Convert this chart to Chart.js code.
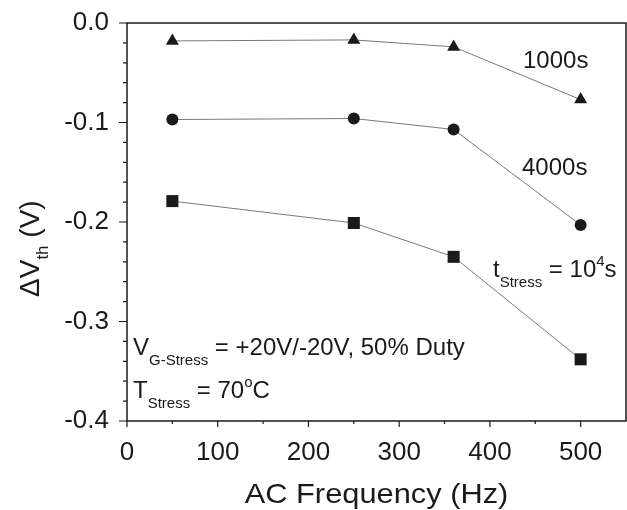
<!DOCTYPE html>
<html>
<head>
<meta charset="utf-8">
<script src="https://cdn.jsdelivr.net/npm/chart.js@4.4.1/dist/chart.umd.min.js"></script>
<style>
  html, body { margin: 0; padding: 0; background: #ffffff; }
  #wrap { width: 627px; height: 510px; }
</style>
</head>
<body>
<div id="wrap"><canvas id="chart" width="627" height="510"></canvas></div>
<script>
const frequencies = [50, 250, 360, 500];
const shift1000s = [-0.018, -0.017, -0.024, -0.077];
const shift4000s = [-0.097, -0.096, -0.107, -0.203];
const shift10000s = [-0.179, -0.201, -0.235, -0.338];

const xTicks = [0, 100, 200, 300, 400, 500];
const xMinorTicks = [50, 150, 250, 350, 450];
const yTicks = [0.0, -0.1, -0.2, -0.3, -0.4];
const yMinorTicks = [-0.02, -0.04, -0.06, -0.08, -0.12, -0.14, -0.16, -0.18,
  -0.22, -0.24, -0.26, -0.28, -0.32, -0.34, -0.36, -0.38];

const FONT = '"Liberation Sans", Arial, sans-serif';
const INK = '#1a1a1a';

const toPoints = (values) => values.map((y, i) => ({ x: frequencies[i], y }));

const buildSeries = (label, values, pointStyle, radius) => ({
  label,
  data: toPoints(values),
  pointStyle,
  pointRadius: radius,
  pointHoverRadius: radius,
  pointBackgroundColor: INK,
  pointBorderColor: INK,
  pointBorderWidth: 0,
  borderColor: '#777777',
  borderWidth: 1,
  showLine: true,
  tension: 0
});

// rich text with sub / superscripts, drawn left to right from (x, y) baseline
const drawRich = (ctx, x, y, parts) => {
  let cx = x;
  parts.forEach(([text, kind]) => {
    const size = kind ? 15 : 24;
    const dy = kind === 'sub' ? 10 : kind === 'sup' ? -11 : 0;
    ctx.font = `${size}px ${FONT}`;
    ctx.fillText(text, cx, y + dy);
    cx += ctx.measureText(text).width;
  });
};

// fixed plot box: the reference frame sits at x 127..626, y 23..421
const pinScale = (scale, size) => {
  if (scale.isHorizontal()) scale.height = size;
  else scale.width = size;
  scale.paddingTop = 0;
  scale.paddingBottom = 0;
  scale.paddingLeft = 0;
  scale.paddingRight = 0;
};

const framePlugin = {
  id: 'frame',
  afterDraw(chart) {
    const { ctx, chartArea: a, scales } = chart;
    ctx.save();
    ctx.strokeStyle = INK;
    ctx.lineWidth = 1.5;
    ctx.strokeRect(a.left, a.top, a.right - a.left, a.bottom - a.top);

    ctx.lineWidth = 1.2;
    ctx.beginPath();
    xTicks.forEach((v) => {
      const px = scales.x.getPixelForValue(v);
      ctx.moveTo(px, a.bottom); ctx.lineTo(px, a.bottom + 6);
    });
    xMinorTicks.forEach((v) => {
      const px = scales.x.getPixelForValue(v);
      ctx.moveTo(px, a.bottom); ctx.lineTo(px, a.bottom + 3);
    });
    yTicks.forEach((v) => {
      const py = scales.y.getPixelForValue(v);
      ctx.moveTo(a.left, py); ctx.lineTo(a.left - 8, py);
    });
    yMinorTicks.forEach((v) => {
      const py = scales.y.getPixelForValue(v);
      ctx.moveTo(a.left, py); ctx.lineTo(a.left - 4, py);
    });
    ctx.stroke();

    ctx.fillStyle = INK;
    ctx.textBaseline = 'alphabetic';
    ctx.textAlign = 'left';

    // axis titles (x title slightly stretched like the source figure)
    ctx.save();
    ctx.translate((a.left + a.right) / 2, 503);
    ctx.scale(1.1, 1);
    ctx.font = `28px ${FONT}`;
    ctx.textAlign = 'center';
    ctx.fillText('AC Frequency (Hz)', 0, 0);
    ctx.restore();

    ctx.save();
    ctx.translate(39, 297);
    ctx.rotate(-Math.PI / 2);
    let cx = 0;
    [['ΔV', 0, 28], ['th', 9, 17], [' (V)', 0, 28]].forEach(([t, dy, size]) => {
      ctx.font = `${size}px ${FONT}`;
      ctx.fillText(t, cx, dy);
      cx += ctx.measureText(t).width;
    });
    ctx.restore();

    // annotations
    ctx.font = `24px ${FONT}`;
    ctx.fillText('1000s', 523, 68);
    ctx.fillText('4000s', 522, 175);
    drawRich(ctx, 493, 277, [['t'], ['Stress', 'sub'], [' = 10'], ['4', 'sup'], ['s']]);
    drawRich(ctx, 133, 355, [['V'], ['G-Stress', 'sub'], [' = +20V/-20V, 50% Duty']]);
    drawRich(ctx, 133, 398, [['T'], ['Stress', 'sub'], [' = 70'], ['o', 'sup'], ['C']]);
    ctx.restore();
  }
};

new Chart(document.getElementById('chart'), {
  type: 'scatter',
  plugins: [framePlugin],
  data: {
    datasets: [
      buildSeries('1000s', shift1000s, 'triangle', 7.5),
      buildSeries('4000s', shift4000s, 'circle', 6),
      buildSeries('10^4s', shift10000s, 'rect', 8.5)
    ]
  },
  options: {
    responsive: false,
    animation: false,
    devicePixelRatio: 1,
    layout: { autoPadding: false, padding: { top: 23, right: 1, left: 0, bottom: 0 } },
    plugins: {
      legend: { display: false },
      tooltip: { enabled: false }
    },
    scales: {
      x: {
        type: 'linear',
        min: 0,
        max: 550,
        afterBuildTicks: (scale) => { scale.ticks = xTicks.map((value) => ({ value })); },
        afterFit: (scale) => pinScale(scale, 89),
        grid: { display: false },
        border: { display: false },
        ticks: {
          color: INK,
          padding: 8,
          maxRotation: 0,
          autoSkip: false,
          font: { family: FONT, size: 26 }
        }
      },
      y: {
        type: 'linear',
        min: -0.4,
        max: 0,
        afterBuildTicks: (scale) => { scale.ticks = yTicks.map((value) => ({ value })); },
        afterFit: (scale) => pinScale(scale, 127),
        grid: { display: false },
        border: { display: false },
        ticks: {
          color: INK,
          padding: 10,
          autoSkip: false,
          callback: (value) => value.toFixed(1),
          font: { family: FONT, size: 26 }
        }
      }
    }
  }
});
</script>
</body>
</html>
